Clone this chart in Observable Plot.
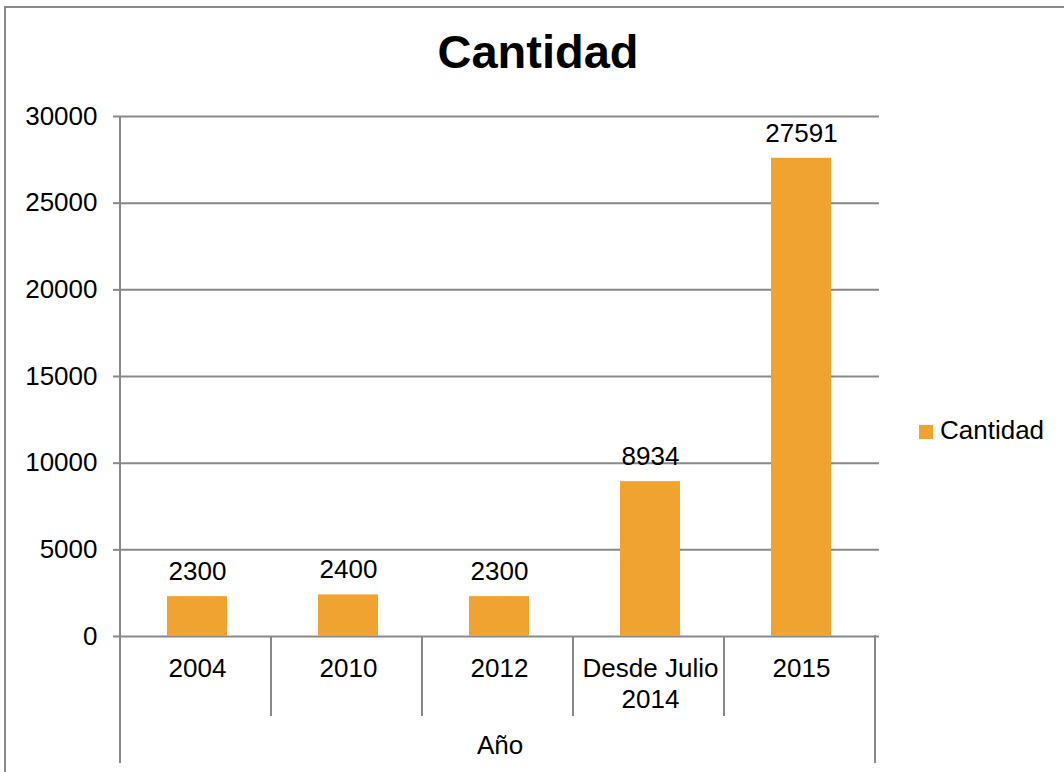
<!DOCTYPE html>
<html>
<head>
<meta charset="utf-8">
<script src="https://cdn.jsdelivr.net/npm/d3@7"></script>
<script src="https://cdn.jsdelivr.net/npm/@observablehq/plot@0.6"></script>
<style>
  body { margin: 0; background: #fff; }
  #wrap { position: relative; width: 1064px; height: 772px; overflow: hidden; font-family: "Liberation Sans", Arial, sans-serif; background: #fff; }
  #frame { position: absolute; left: 4px; top: 6px; width: 1200px; height: 900px; border-left: 2px solid #8a8a8a; border-top: 2px solid #8a8a8a; }
  #title { position: absolute; left: 0; top: 28px; width: 1076px; text-align: center; font-size: 47px; line-height: 1; font-weight: bold; color: #000; }
  #legend { position: absolute; left: 919px; top: 417px; font-size: 26px; line-height: 1; color: #000; white-space: nowrap; }
  #legend .sw { position: absolute; left: 0; top: 8px; width: 14px; height: 14px; background: #F0A330; }
  #legend .lb { position: absolute; left: 21px; top: 0; }
  #chart { position: absolute; left: 0; top: 0; }
</style>
</head>
<body>
<div id="wrap">
  <div id="frame"></div>
  <div id="chart"></div>
  <div id="title">Cantidad</div>
  <div id="legend"><span class="sw"></span><span class="lb">Cantidad</span></div>
</div>
<script>
const categories = ["2004", "2010", "2012", "Desde Julio 2014", "2015"];
const categoryLabels = ["2004", "2010", "2012", "Desde Julio\n2014", "2015"];
const values = [2300, 2400, 2300, 8934, 27591];
const yTicks = [0, 5000, 10000, 15000, 20000, 25000, 30000];
const seriesName = "Cantidad";
const axisTitle = "Año";

const data = categories.map((c, i) => ({c, v: values[i], label: categoryLabels[i]}));
const barColor = "#F0A330";
const lineColor = "#898989";

const chart = Plot.plot({
  width: 1064,
  height: 772,
  marginLeft: 120,
  marginRight: 185,
  marginTop: 116,
  marginBottom: 136,
  style: {fontFamily: '"Liberation Sans", Arial, sans-serif', fontSize: "26px", color: "#000", background: "transparent", overflow: "visible"},
  x: {domain: categories, paddingInner: 0.6, paddingOuter: 0.3, axis: null},
  y: {domain: [0, 30000], axis: null},
  marks: [
    Plot.ruleY(yTicks, {stroke: lineColor, strokeWidth: 2}),
    Plot.axisY(yTicks, {tickSize: 7, tickPadding: 16, stroke: lineColor, strokeWidth: 2, color: "#000", fontSize: 26, tickFormat: d => String(d), label: null}),
    Plot.barY(data, {x: "c", y: "v", fill: barColor}),
    Plot.text(data, {x: "c", y: "v", text: d => String(d.v), dy: -25, fontSize: 26, fill: "#000"}),
    Plot.text(data, {x: "c", frameAnchor: "bottom", text: "label", lineAnchor: "top", dy: 19, lineHeight: 1.17, fontSize: 26, fill: "#000"}),
    Plot.text([axisTitle], {text: d => d, frameAnchor: "bottom", dy: 117, fontSize: 26, fill: "#000"})
  ]
});

document.getElementById("chart").appendChild(chart);

// category separators derived from the library's x and y scales
const xs = chart.scale("x");
const ys = chart.scale("y");
const x0 = xs.range[0];
const step = xs.step;
const yTop = ys.apply(30000);
const yBase = ys.apply(0);
const g = d3.select(chart).append("g").attr("stroke", lineColor).attr("stroke-width", 2);
categories.forEach((c, i) => {
  const bx = x0 + i * step;
  g.append("line").attr("x1", bx).attr("x2", bx)
    .attr("y1", i === 0 ? yTop : yBase)
    .attr("y2", i === 0 ? yBase + 127 : yBase + 80);
});
const rx = x0 + categories.length * step;
g.append("line").attr("x1", rx).attr("x2", rx).attr("y1", yBase - 1).attr("y2", yBase + 127);
</script>
</body>
</html>
